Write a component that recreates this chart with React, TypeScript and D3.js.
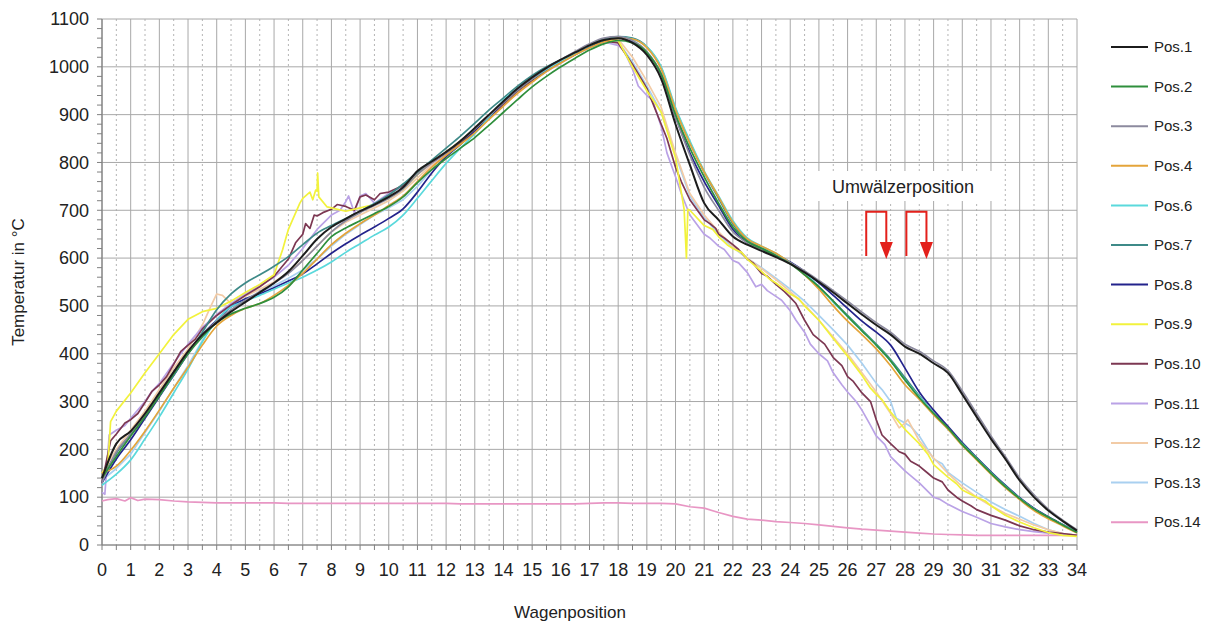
import React from 'react';
import * as d3 from 'd3';

const W = 1212;
const H = 631;

// x grid for the series values (Wagenposition 0 .. 34 step 0.5)
const GRID_X: number[] = d3.range(69).map((i) => i / 2);
const xTickValues: number[] = d3.range(0, 35);
const yTickValues: number[] = d3.range(0, 1101, 100);
const yMinorTicks: number[] = d3.range(0, 1101, 20);
const xMinorTicks: number[] = d3.range(0, 68.5).map((i) => i / 2);

const seriesNames = ['Pos.1', 'Pos.2', 'Pos.3', 'Pos.4', 'Pos.6', 'Pos.7', 'Pos.8', 'Pos.9', 'Pos.10', 'Pos.11', 'Pos.12', 'Pos.13', 'Pos.14'];
const seriesColors = ['#1c1c1c', '#2f8f3c', '#8c8a9e', '#e4a43a', '#5ad9dc', '#3e8a88', '#23238c', '#f2f23c', '#7c3752', '#baa2e6', '#f2cba6', '#a9d0f0', '#e896c4'];

const pos1 = [140, 212, 238, 275, 318, 362, 405, 440, 465, 488, 508, 528, 548, 572, 605, 640, 665, 682, 698, 712, 728, 748, 782, 802, 822, 845, 872, 900, 928, 955, 978, 998, 1015, 1030, 1045, 1056, 1060, 1050, 1025, 975, 880, 795, 715, 680, 645, 628, 615, 602, 588, 570, 550, 528, 505, 482, 460, 440, 415, 400, 380, 360, 315, 268, 222, 180, 135, 100, 72, 50, 30];
const pos2 = [140, 185, 228, 268, 312, 358, 400, 435, 465, 483, 495, 505, 518, 540, 575, 610, 645, 663, 678, 693, 708, 728, 758, 785, 808, 830, 852, 878, 905, 932, 958, 980, 1000, 1018, 1035, 1048, 1055, 1050, 1030, 985, 900, 830, 770, 715, 665, 635, 620, 605, 588, 565, 540, 510, 478, 448, 418, 385, 345, 308, 275, 245, 210, 180, 150, 122, 97, 75, 58, 42, 26];
const pos3 = [130, 195, 232, 272, 315, 360, 402, 440, 468, 492, 512, 530, 548, 568, 595, 625, 655, 678, 695, 710, 725, 745, 775, 800, 820, 845, 870, 898, 925, 952, 975, 997, 1015, 1032, 1048, 1060, 1063, 1055, 1032, 985, 895, 815, 748, 700, 655, 632, 618, 605, 590, 573, 553, 532, 510, 487, 465, 445, 420, 405, 385, 365, 322, 275, 228, 185, 140, 105, 75, 52, 32];
const pos4 = [150, 165, 198, 238, 282, 328, 372, 418, 458, 480, 495, 505, 522, 543, 568, 598, 628, 652, 672, 690, 710, 730, 760, 790, 815, 838, 862, 890, 918, 945, 968, 990, 1008, 1025, 1040, 1052, 1060, 1058, 1040, 995, 910, 840, 780, 728, 675, 640, 625, 610, 590, 565, 535, 500, 468, 440, 410, 375, 335, 305, 272, 242, 208, 178, 148, 120, 95, 72, 55, 40, 25];
const pos6 = [125, 148, 178, 222, 268, 318, 368, 425, 470, 498, 510, 522, 535, 548, 560, 575, 592, 612, 630, 648, 665, 690, 725, 762, 798, 830, 860, 895, 930, 955, 975, 995, 1012, 1028, 1044, 1056, 1062, 1058, 1042, 1000, 915, 845, 782, 730, 678, 642, 625, 610, 590, 568, 540, 508, 478, 448, 418, 385, 345, 310, 275, 243, 210, 180, 150, 122, 97, 75, 57, 42, 27];
const pos7 = [140, 192, 232, 272, 312, 355, 400, 445, 492, 525, 548, 565, 583, 603, 628, 652, 668, 683, 698, 714, 732, 755, 780, 805, 830, 855, 882, 910, 935, 960, 982, 1000, 1015, 1030, 1045, 1058, 1063, 1060, 1042, 998, 912, 842, 780, 725, 672, 638, 622, 608, 590, 567, 540, 510, 480, 450, 420, 388, 350, 312, 276, 244, 212, 182, 152, 124, 98, 76, 58, 42, 27];
const pos8 = [130, 180, 220, 265, 310, 355, 400, 440, 470, 498, 515, 525, 538, 552, 567, 588, 610, 630, 648, 665, 683, 703, 738, 778, 812, 838, 865, 895, 925, 952, 975, 995, 1012, 1028, 1043, 1055, 1060, 1052, 1030, 985, 895, 820, 760, 710, 660, 632, 620, 607, 592, 572, 548, 522, 495, 468, 445, 418, 370, 320, 282, 248, 214, 183, 153, 125, 99, 77, 59, 43, 27];
const pos9 = [150, 280, 318, 360, 400, 440, 472, 488, 495, 510, 528, 545, 565, 660, 725, 740, 705, 698, 705, 712, 725, 745, 775, 800, 822, 845, 870, 898, 925, 952, 975, 995, 1012, 1028, 1043, 1055, 1055, 1000, 950, 905, 810, 700, 668, 645, 620, 598, 572, 548, 525, 500, 470, 432, 395, 355, 315, 278, 242, 212, 168, 142, 115, 100, 82, 62, 48, 36, 26, 20, 18];
const pos10 = [130, 232, 262, 298, 335, 378, 418, 452, 480, 502, 522, 540, 562, 598, 650, 688, 702, 708, 728, 722, 738, 752, 778, 800, 820, 842, 868, 895, 922, 950, 972, 993, 1010, 1026, 1042, 1054, 1050, 1005, 955, 880, 790, 722, 680, 650, 628, 598, 568, 545, 518, 470, 430, 392, 352, 318, 262, 212, 190, 165, 140, 115, 92, 74, 62, 52, 40, 32, 27, 24, 20];
const pos11 = [110, 240, 265, 300, 338, 380, 420, 455, 482, 505, 525, 542, 560, 585, 620, 660, 690, 718, 730, 715, 735, 750, 775, 798, 818, 840, 865, 893, 920, 948, 970, 990, 1008, 1025, 1040, 1052, 1045, 995, 940, 875, 770, 690, 650, 625, 595, 570, 545, 520, 490, 445, 400, 360, 320, 282, 228, 185, 155, 130, 100, 85, 70, 58, 45, 38, 32, 28, 25, 22, 20];
const pos12 = [150, 200, 240, 280, 325, 370, 410, 460, 518, 505, 520, 535, 550, 570, 595, 625, 655, 675, 690, 705, 720, 740, 768, 795, 815, 840, 865, 893, 920, 948, 970, 992, 1010, 1026, 1042, 1055, 1058, 1020, 970, 915, 820, 735, 690, 655, 625, 600, 578, 555, 530, 502, 470, 435, 400, 360, 320, 275, 255, 218, 182, 150, 122, 100, 82, 66, 54, 42, 32, 24, 20];
const pos13 = [135, 160, 190, 235, 280, 328, 375, 428, 472, 500, 515, 528, 542, 558, 575, 598, 625, 650, 670, 690, 705, 722, 750, 785, 812, 838, 865, 895, 925, 952, 975, 995, 1012, 1028, 1044, 1056, 1052, 1010, 960, 905, 815, 730, 685, 650, 622, 600, 580, 558, 535, 510, 480, 450, 418, 380, 338, 300, 255, 228, 180, 152, 130, 110, 90, 74, 60, 45, 32, 24, 20];
const pos14 = [92, 97, 99, 96, 95, 92, 90, 89, 88, 88, 88, 88, 88, 87, 87, 87, 87, 87, 87, 87, 87, 87, 87, 87, 87, 86, 86, 86, 86, 86, 86, 86, 86, 86, 87, 88, 88, 87, 87, 87, 86, 80, 77, 68, 60, 54, 52, 49, 47, 45, 42, 39, 36, 33, 31, 29, 27, 25, 23, 22, 21, 20, 20, 20, 20, 20, 20, 20, 20];

// extra measured points (spikes and wiggles) for the noisy series
const pos9Extra: [number, number][] = [[0.2, 165], [0.3, 258], [6.3, 618], [6.45, 650], [6.9, 715], [7.25, 738], [7.35, 722], [7.45, 742], [7.52, 778], [7.56, 728], [7.85, 707], [20.3, 702], [20.38, 600], [20.43, 702], [21.3, 660], [21.8, 628], [22.3, 612], [23.3, 555], [24.3, 515], [26.8, 328], [27.2, 304], [28.8, 190], [29.8, 128], [30.8, 92]];
const pos10Extra: [number, number][] = [[0.3, 218], [0.8, 255], [1.25, 275], [1.75, 322], [2.25, 352], [2.75, 405], [3.25, 430], [6.75, 632], [7.1, 672], [7.25, 662], [7.4, 690], [7.7, 695], [8.2, 712], [8.8, 700], [9.2, 732], [9.7, 735], [18.8, 975], [19.2, 925], [19.7, 850], [20.2, 760], [21.2, 672], [21.4, 662], [21.7, 642], [22.2, 618], [22.7, 590], [23.2, 562], [23.8, 530], [24.2, 505], [24.8, 440], [25.2, 420], [25.8, 375], [26.2, 342], [26.8, 300], [27.2, 230], [27.8, 195], [28.2, 175], [28.8, 150], [29.3, 132], [29.8, 100], [30.3, 82]];
const pos11Extra: [number, number][] = [[0.1, 106], [0.25, 230], [0.8, 250], [1.7, 318], [8.3, 700], [8.6, 730], [8.8, 695], [9.2, 735], [18.2, 1035], [18.7, 960], [19.2, 930], [19.7, 820], [20.2, 735], [21.2, 642], [21.7, 618], [22.2, 590], [22.8, 540], [23.2, 532], [23.7, 512], [24.2, 470], [24.7, 420], [25.3, 385], [25.8, 335], [26.3, 300], [26.8, 250], [27.3, 210], [28.3, 140], [29.2, 96]];
const pos12Extra: [number, number][] = [[3.8, 500], [4.0, 525], [4.2, 522], [27.8, 245], [28.1, 262]];
const pos13Extra: [number, number][] = [[27.2, 325], [27.7, 265], [28.2, 248], [29.3, 170]];
const pos14Extra: [number, number][] = [[0.2, 95], [0.8, 92], [1.25, 93]];

const seriesValues = [pos1, pos2, pos3, pos4, pos6, pos7, pos8, pos9, pos10, pos11, pos12, pos13, pos14];
const seriesExtras: ([number, number][] | null)[] = [null, null, null, null, null, null, null, pos9Extra, pos10Extra, pos11Extra, pos12Extra, pos13Extra, pos14Extra];
const noisySeries = ['Pos.9', 'Pos.10', 'Pos.11', 'Pos.12', 'Pos.13', 'Pos.14'];

// annotation (Umwälzerposition) in data units
const annotationLabel = 'Umwälzerposition';
const arrowSpans: [number, number][] = [[26.65, 27.35], [28.05, 28.75]];
const arrowTop = 697;
const arrowBottom = 600;

const LEFT = 102;
const RIGHT = 1077;
const TOP = 19;
const BOTTOM = 545;
const FONT = "Arial, 'Liberation Sans', Helvetica, sans-serif";

export default function App() {
  const x = d3.scaleLinear().domain([0, 34]).range([LEFT, RIGHT]);
  const y = d3.scaleLinear().domain([0, 1100]).range([BOTTOM, TOP]);

  const series = seriesNames.map((name, i) => {
    const pts: [number, number][] = GRID_X.map((gx, j) => [gx, seriesValues[i][j]]);
    const extra = seriesExtras[i];
    if (extra) {
      extra.forEach((p) => {
        const idx = pts.findIndex((q) => Math.abs(q[0] - p[0]) < 1e-9);
        if (idx >= 0) pts[idx] = p;
        else pts.push(p);
      });
    }
    pts.sort((a, b) => a[0] - b[0]);
    return { name, color: seriesColors[i], pts, noisy: noisySeries.includes(name) };
  });

  const drawOrder = series.slice().reverse();

  const lineSmooth = d3
    .line<[number, number]>()
    .x((d) => x(d[0]))
    .y((d) => y(d[1]))
    .curve(d3.curveMonotoneX);
  const lineRough = d3
    .line<[number, number]>()
    .x((d) => x(d[0]))
    .y((d) => y(d[1]))
    .curve(d3.curveLinear);

  const halfTicks = d3.range(0, 34).map((v) => v + 0.5);

  return (
    <svg width={W} height={H} style={{ position: 'absolute', left: 0, top: 0, background: '#fff' }} fontFamily={FONT}>
      <rect x={0} y={0} width={W} height={H} fill="#fff" />
      {/* dotted half gridlines */}
      {halfTicks.map((v) => (
        <line key={'hv' + v} x1={x(v)} x2={x(v)} y1={TOP} y2={BOTTOM} stroke="#b4b4b4" strokeWidth={1} strokeDasharray="2,3" />
      ))}
      {/* solid vertical gridlines */}
      {xTickValues.map((v) => (
        <line key={'v' + v} x1={x(v)} x2={x(v)} y1={TOP} y2={BOTTOM} stroke="#a8a8a8" strokeWidth={1} />
      ))}
      {/* horizontal gridlines */}
      {yTickValues.map((v) => (
        <line key={'h' + v} x1={LEFT} x2={RIGHT} y1={y(v)} y2={y(v)} stroke="#a8a8a8" strokeWidth={1} />
      ))}
      {/* axes */}
      <line x1={LEFT} x2={LEFT} y1={TOP} y2={BOTTOM} stroke="#808080" strokeWidth={1.2} />
      <line x1={LEFT} x2={RIGHT} y1={BOTTOM} y2={BOTTOM} stroke="#808080" strokeWidth={1.2} />
      {yMinorTicks.map((v) => (
        <line key={'ym' + v} x1={LEFT - 5} x2={LEFT} y1={y(v)} y2={y(v)} stroke="#808080" strokeWidth={1} />
      ))}
      {xMinorTicks.map((v) => (
        <line key={'xm' + v} x1={x(v)} x2={x(v)} y1={BOTTOM} y2={BOTTOM + 5} stroke="#808080" strokeWidth={1} />
      ))}
      {yTickValues.map((v) => (
        <text key={'yl' + v} x={LEFT - 13} y={y(v)} dy="0.35em" textAnchor="end" fontSize={18} fill="#222">
          {v}
        </text>
      ))}
      {xTickValues.map((v) => (
        <text key={'xl' + v} x={x(v)} y={BOTTOM + 31} textAnchor="middle" fontSize={18} fill="#222">
          {v}
        </text>
      ))}
      <text transform={`translate(24, ${(TOP + BOTTOM) / 2}) rotate(-90)`} textAnchor="middle" fontSize={17} fill="#222">
        Temperatur in °C
      </text>
      <text x={570} y={618} textAnchor="middle" fontSize={17} fill="#222">
        Wagenposition
      </text>

      {/* annotation */}
      <rect x={815} y={171} width={180} height={30} fill="#fff" />
      <text x={903} y={193} textAnchor="middle" fontSize={18} fill="#222">
        {annotationLabel}
      </text>
      {arrowSpans.map(([a, b], i) => (
        <g key={'ar' + i}>
          <path
            d={`M${x(a)},${y(arrowBottom) - 2} V${y(arrowTop)} H${x(b)} V${y(arrowBottom) - 14}`}
            fill="none"
            stroke="#e3201b"
            strokeWidth={2}
          />
          <path
            d={`M${x(b) - 6.5},${y(arrowBottom) - 16} L${x(b) + 6.5},${y(arrowBottom) - 16} L${x(b)},${y(arrowBottom) + 1} Z`}
            fill="#e3201b"
          />
        </g>
      ))}

      {/* series */}
      {drawOrder.map((s) => (
        <path
          key={s.name}
          d={(s.noisy ? lineRough : lineSmooth)(s.pts) || ''}
          fill="none"
          stroke={s.color}
          strokeWidth={s.name === 'Pos.1' ? 2 : 1.7}
          strokeLinejoin="round"
        />
      ))}

      {/* legend */}
      {series.map((s, i) => {
        const ly = 47 + i * 39.6;
        return (
          <g key={'lg' + s.name}>
            <line x1={1111} x2={1148} y1={ly} y2={ly} stroke={s.color} strokeWidth={2} />
            <text x={1154} y={ly} dy="0.35em" fontSize={15} fill="#222">
              {s.name}
            </text>
          </g>
        );
      })}
    </svg>
  );
}
